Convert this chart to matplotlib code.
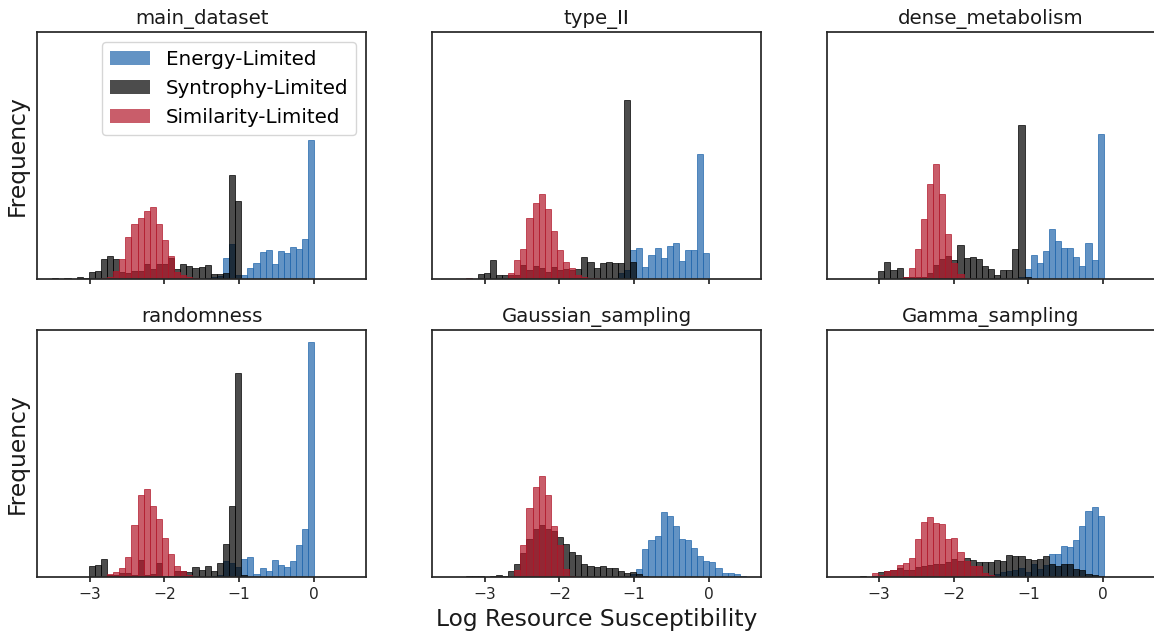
import numpy as np
import matplotlib
matplotlib.use("Agg")
import matplotlib.pyplot as plt

# ---------------- data (bin counts, 49 shared bins from -3.5 to 0.5) ----------------
panel_titles = ["main_dataset", "type_II", "dense_metabolism",
                "randomness", "Gaussian_sampling", "Gamma_sampling"]
series_labels = ["Energy-Limited", "Syntrophy-Limited", "Similarity-Limited"]
xtick_values = [-3, -2, -1, 0]

main_energy = [0, 0, 0, 0, 0, 0, 0, 0, 0, 0, 0, 0, 0, 0, 0, 0, 0, 0, 0, 0, 0, 0, 0, 0, 0,
               1, 2, 3, 21, 35, 4, 4, 11, 16, 27, 29, 15, 28, 26, 32, 30, 40, 140,
               0, 0, 0, 0, 0, 0]
main_syntrophy = [1, 0, 1, 0, 2, 1, 7, 8, 20, 23, 20, 7, 6, 8, 8, 15, 10, 15, 15, 21, 10, 15, 13, 11, 12,
                  14, 5, 5, 6, 105, 79, 0, 0, 0, 0, 0, 0, 0, 0, 0, 0, 0, 0,
                  0, 0, 0, 0, 0, 0]
main_similarity = [0, 0, 0, 0, 0, 0, 0, 0, 1, 2, 8, 20, 42, 55, 61, 69, 73, 55, 39, 23, 7, 4, 2, 1, 0,
                   0, 0, 0, 0, 0, 0, 0, 0, 0, 0, 0, 0, 0, 0, 0, 0, 0, 0,
                   0, 0, 0, 0, 0, 0]

typeII_energy = [0, 0, 0, 0, 0, 0, 0, 0, 0, 0, 0, 0, 0, 0, 0, 0, 0, 0, 0, 0, 0, 0, 0, 0, 0,
                 0, 1, 1, 6, 9, 29, 31, 12, 24, 31, 21, 33, 36, 18, 29, 29, 126, 26,
                 0, 0, 0, 0, 0, 0]
typeII_syntrophy = [0, 0, 0, 0, 0, 5, 6, 19, 4, 4, 4, 4, 14, 9, 13, 11, 7, 12, 9, 10, 9, 10, 22, 17, 11,
                    16, 17, 16, 16, 180, 17, 0, 0, 0, 0, 0, 0, 0, 0, 0, 0, 0, 0,
                    0, 0, 0, 0, 0, 0]
typeII_similarity = [0, 0, 0, 1, 0, 0, 0, 0, 0, 0, 6, 19, 30, 62, 77, 86, 71, 48, 29, 17, 11, 4, 2, 1, 1,
                     0, 0, 0, 0, 0, 0, 0, 0, 0, 0, 0, 0, 0, 0, 0, 0, 0, 0,
                     0, 0, 0, 0, 0, 0]

dense_energy = [0, 0, 0, 0, 0, 0, 0, 0, 0, 0, 0, 0, 0, 0, 0, 0, 0, 0, 0, 0, 0, 0, 0, 0, 0,
                0, 0, 0, 0, 2, 10, 24, 16, 28, 50, 38, 31, 31, 22, 13, 36, 19, 146,
                0, 0, 0, 0, 0, 0]
dense_syntrophy = [0, 0, 0, 0, 0, 0, 8, 17, 9, 11, 2, 2, 2, 2, 6, 14, 20, 23, 19, 34, 21, 22, 20, 13, 10,
                   4, 9, 9, 30, 155, 2, 0, 0, 0, 0, 0, 0, 0, 0, 0, 0, 0, 0,
                   0, 0, 0, 0, 0, 0]
dense_similarity = [0, 0, 0, 0, 0, 0, 0, 0, 0, 0, 2, 11, 30, 60, 96, 116, 86, 45, 16, 5, 1, 0, 0, 0, 0,
                    0, 0, 0, 0, 0, 0, 0, 0, 0, 0, 0, 0, 0, 0, 0, 0, 0, 0,
                    0, 0, 0, 0, 0, 0]

random_energy = [0, 0, 0, 0, 0, 0, 0, 0, 0, 0, 0, 0, 0, 0, 0, 0, 0, 0, 0, 0, 0, 0, 0, 0, 0,
                 0, 1, 2, 16, 14, 10, 18, 20, 3, 9, 6, 17, 12, 10, 16, 32, 48, 236,
                 0, 0, 0, 0, 0, 0]
random_syntrophy = [0, 0, 0, 0, 0, 0, 11, 12, 18, 2, 2, 4, 4, 2, 17, 2, 3, 14, 1, 1, 6, 6, 5, 10, 7,
                    11, 6, 14, 33, 71, 205, 2, 0, 0, 0, 0, 0, 0, 0, 0, 0, 0, 0,
                    0, 0, 0, 0, 0, 0]
random_similarity = [0, 0, 0, 0, 0, 0, 0, 0, 0, 3, 5, 9, 20, 52, 82, 88, 71, 58, 39, 23, 11, 6, 2, 0, 0,
                     0, 0, 0, 0, 0, 0, 0, 0, 0, 0, 0, 0, 0, 0, 0, 0, 0, 0,
                     0, 0, 0, 0, 0, 0]

gauss_energy = [0, 0, 0, 0, 0, 0, 0, 0, 0, 0, 0, 0, 0, 0, 0, 0, 0, 0, 0, 0, 0, 0, 0, 0, 0,
                0, 0, 0, 0, 1, 3, 8, 28, 37, 41, 65, 61, 51, 38, 37, 29, 21, 16,
                15, 9, 4, 4, 3, 1]
gauss_syntrophy = [0, 0, 0, 1, 1, 1, 0, 1, 2, 1, 6, 13, 24, 38, 48, 52, 48, 46, 40, 33, 25, 22, 13, 11, 10,
                   11, 9, 9, 6, 4, 5, 3, 1, 0, 0, 0, 0, 0, 0, 0, 0, 0, 0,
                   0, 0, 0, 0, 0, 0]
gauss_similarity = [0, 0, 0, 0, 0, 0, 0, 0, 0, 0, 0, 7, 32, 69, 90, 101, 82, 51, 32, 8, 1, 0, 0, 0, 0,
                    0, 0, 0, 0, 0, 0, 0, 0, 0, 0, 0, 0, 0, 0, 0, 0, 0, 0,
                    0, 0, 0, 0, 0, 0]

gamma_energy = [0, 0, 0, 0, 0, 0, 0, 0, 0, 0, 0, 0, 0, 0, 0, 0, 0, 0, 0, 0, 0, 0, 1, 1, 2,
                3, 5, 6, 7, 9, 5, 13, 8, 12, 23, 23, 31, 30, 37, 51, 66, 70, 61,
                0, 0, 0, 0, 0, 0]
gamma_syntrophy = [0, 0, 0, 1, 0, 1, 5, 6, 7, 9, 7, 7, 10, 11, 12, 13, 13, 15, 18, 16, 19, 17, 15, 15, 15,
                   17, 16, 22, 21, 21, 18, 17, 18, 21, 13, 11, 13, 13, 8, 7, 3, 2, 1,
                   0, 0, 0, 0, 0, 0]
gamma_similarity = [0, 0, 0, 0, 0, 4, 2, 6, 7, 12, 14, 19, 38, 55, 60, 54, 53, 38, 39, 25, 16, 11, 11, 4, 2,
                    0, 0, 0, 0, 0, 0, 0, 0, 0, 0, 0, 0, 0, 0, 0, 0, 0, 0,
                    0, 0, 0, 0, 0, 0]

panel_data = [
    (main_energy, main_syntrophy, main_similarity),
    (typeII_energy, typeII_syntrophy, typeII_similarity),
    (dense_energy, dense_syntrophy, dense_similarity),
    (random_energy, random_syntrophy, random_similarity),
    (gauss_energy, gauss_syntrophy, gauss_similarity),
    (gamma_energy, gamma_syntrophy, gamma_similarity),
]

bin_edges = np.linspace(-3.5, 0.5, 50)
bin_centers = 0.5 * (bin_edges[:-1] + bin_edges[1:])
series_colors = ["#2166ac", "#000000", "#b2182b"]

# ---------------- figure ----------------
W, H = 1154, 636
fig, axes = plt.subplots(2, 3, figsize=(W / 100, H / 100), dpi=100,
                         sharex=True, sharey=True)

ax_lefts = [37.3, 432.3, 826.7]
ax_w = 328.6
row_bottoms = [279.3, 577.0]
ax_h = 247.0

for i, ax in enumerate(axes.flat):
    r, c = divmod(i, 3)
    ax.set_position([ax_lefts[c] / W, 1 - row_bottoms[r] / H, ax_w / W, ax_h / H])
    for counts, col, lab in zip(panel_data[i], series_colors, series_labels):
        ax.hist(bin_centers, bins=bin_edges, weights=counts, color=col,
                edgecolor=col, linewidth=0.7, alpha=0.7, label=lab)
    ax.set_title(panel_titles[i], fontsize=14.2, color="0.1")
    ax.set_yticks([])
    ax.set_xticks(xtick_values)
    ax.tick_params(axis="x", length=3.8, width=1.25, color="0.15",
                   labelsize=11.2, labelcolor="0.15")
    for sp in ax.spines.values():
        sp.set_color("0.15")
        sp.set_linewidth(1.25)
    if c == 0:
        ax.set_ylabel("Frequency", fontsize=16.8, color="0.1", labelpad=6)

axes[1, 1].set_xlabel("Log Resource Susceptibility", fontsize=16.8, color="0.1")
leg = axes[0, 0].legend(loc="upper right", fontsize=14.3)
for h in leg.legend_handles:
    h.set_edgecolor("none")

fig.savefig("out.png", dpi=100)
